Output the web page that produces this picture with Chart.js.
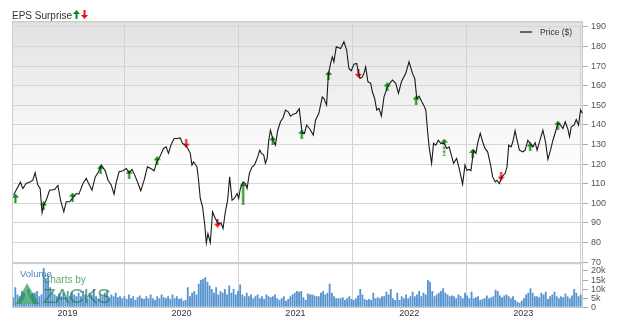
<!DOCTYPE html>
<html>
<head>
<meta charset="utf-8">
<script src="https://cdn.jsdelivr.net/npm/chart.js@4.4.0/dist/chart.umd.min.js"></script>
<style>
  html, body { margin: 0; padding: 0; background: #fff; }
  #wrap { position: relative; width: 620px; height: 330px; font-family: "Liberation Sans", Arial, sans-serif; }
  #chart { position: absolute; left: 0; top: 0; }
  .lbl { position: absolute; white-space: nowrap; }
  #eps { left: 12px; top: 10px; font-size: 10px; line-height: 12px; color: #333; }
  #eps svg { vertical-align: baseline; margin-left: 1px; }
  #legend { left: 520px; top: 27px; font-size: 8.5px; line-height: 10px; color: #333; }
  #legend span { display: inline-block; width: 12px; height: 0; border-top: 2px solid #666; vertical-align: middle; margin-right: 8px; position: relative; top: -1px; }
  #volume { left: 20px; top: 268px; font-size: 9.5px; line-height: 11px; color: #4a86c5; }
  #chartsby { left: 43px; top: 274px; font-size: 10px; line-height: 11px; color: rgba(50, 150, 80, 0.8); }
  #zacks { left: 43px; top: 285px; font-size: 21px; line-height: 21px; color: rgba(30, 125, 70, 0.68); letter-spacing: -0.5px; }
  #logo { position: absolute; left: 15px; top: 282px; }
</style>
</head>
<body>
<div id="wrap">
  <canvas id="chart" width="620" height="330"></canvas>
  <div class="lbl" id="eps">EPS Surprise<svg width="7" height="9" viewBox="0 0 7 9"><polygon points="0,4 3.5,0 7,4" fill="#118a11"/><rect x="2.5" y="4" width="2" height="5" fill="#118a11"/></svg><svg width="7" height="9" viewBox="0 0 7 9"><polygon points="0,5 3.5,9 7,5" fill="#ee1111"/><rect x="2.5" y="0" width="2" height="5" fill="#ee1111"/></svg></div>
  <div class="lbl" id="legend"><span></span>Price ($)</div>
  <svg id="logo" width="25" height="23" viewBox="0 0 25 23">
    <polygon points="1,22 12,1 24,22" fill="rgba(30,140,70,0.65)"/>
    <polygon points="6,22 12,10 18,22" fill="rgba(120,200,140,0.55)"/>
  </svg>
  <div class="lbl" id="volume">Volume</div>
  <div class="lbl" id="chartsby">Charts by</div>
  <div class="lbl" id="zacks">ZACKS</div>
</div>
<script>
// weekly closing price, dates as decimal years
const priceDates = [
  2018.527, 2018.548, 2018.586, 2018.607, 2018.636, 2018.674, 2018.695, 2018.715, 2018.739, 2018.759,
  2018.776, 2018.789, 2018.812, 2018.842, 2018.886, 2018.915, 2018.938, 2018.967, 2018.988, 2019.018,
  2019.047, 2019.076, 2019.099, 2019.135, 2019.164, 2019.185, 2019.214, 2019.243, 2019.267, 2019.296,
  2019.331, 2019.355, 2019.384, 2019.408, 2019.428, 2019.452, 2019.487, 2019.516, 2019.540, 2019.566,
  2019.590, 2019.619, 2019.643, 2019.672, 2019.701, 2019.731, 2019.760, 2019.783, 2019.813, 2019.842,
  2019.865, 2019.886, 2019.907, 2019.936, 2019.965, 2019.989, 2020.009, 2020.033, 2020.056, 2020.077,
  2020.092, 2020.106, 2020.136, 2020.150, 2020.165, 2020.185, 2020.203, 2020.218, 2020.232, 2020.253,
  2020.273, 2020.297, 2020.321, 2020.347, 2020.365, 2020.385, 2020.405, 2020.423, 2020.444, 2020.464,
  2020.488, 2020.502, 2020.517, 2020.541, 2020.561, 2020.576, 2020.596, 2020.620, 2020.640, 2020.658,
  2020.669, 2020.687, 2020.702, 2020.722, 2020.737, 2020.752, 2020.766, 2020.781, 2020.805, 2020.825,
  2020.845, 2020.869, 2020.893, 2020.913, 2020.937, 2020.957, 2020.981, 2021.007, 2021.034, 2021.060,
  2021.080, 2021.098, 2021.124, 2021.157, 2021.177, 2021.206, 2021.236, 2021.250, 2021.274, 2021.289,
  2021.309, 2021.324, 2021.338, 2021.359, 2021.397, 2021.426, 2021.450, 2021.470, 2021.491, 2021.514,
  2021.538, 2021.553, 2021.567, 2021.588, 2021.602, 2021.617, 2021.637, 2021.661, 2021.676, 2021.696,
  2021.714, 2021.734, 2021.755, 2021.778, 2021.808, 2021.828, 2021.852, 2021.881, 2021.905, 2021.931,
  2021.969, 2021.998, 2022.028, 2022.048, 2022.066, 2022.086, 2022.110, 2022.130, 2022.145, 2022.160,
  2022.174, 2022.196, 2022.213, 2022.233, 2022.254, 2022.277, 2022.306, 2022.330, 2022.350, 2022.365,
  2022.389, 2022.416, 2022.438, 2022.468, 2022.489, 2022.506, 2022.526, 2022.541, 2022.565, 2022.585,
  2022.600, 2022.623, 2022.644, 2022.665, 2022.688, 2022.711, 2022.732, 2022.755, 2022.770, 2022.791,
  2022.812, 2022.841, 2022.858, 2022.873, 2022.894, 2022.909, 2022.929, 2022.946, 2022.967, 2022.997,
  2023.017, 2023.041, 2023.061, 2023.085, 2023.105, 2023.122, 2023.143, 2023.173, 2023.196, 2023.217,
  2023.240, 2023.261, 2023.281, 2023.305, 2023.328, 2023.349, 2023.369, 2023.393, 2023.407, 2023.422,
  2023.446, 2023.466, 2023.486, 2023.504, 2023.520
];
const priceValues = [
  104.2, 106.7, 110.8, 107.6, 110.1, 111.0, 111.8, 115.6, 109.3, 107.6,
  95.2, 99.1, 101.6, 106.7, 107.1, 109.1, 101.6, 95.7, 100.8, 100.8,
  103.0, 105.0, 104.7, 110.1, 112.7, 110.1, 106.7, 113.5, 115.6, 119.5,
  116.6, 111.8, 109.3, 104.7, 111.0, 116.1, 116.6, 117.8, 115.6, 117.3,
  114.4, 110.1, 106.4, 111.8, 118.6, 117.8, 116.6, 121.2, 124.1, 128.0,
  128.8, 125.5, 129.7, 133.1, 133.1, 133.4, 130.6, 129.7, 128.0, 125.5,
  119.5, 121.2, 118.6, 111.8, 102.5, 98.2, 89.7, 79.8, 84.6, 80.0,
  95.7, 92.3, 89.7, 90.0, 87.2, 95.7, 101.6, 113.5, 101.6, 102.5,
  105.0, 102.5, 107.6, 111.0, 110.1, 107.6, 115.3, 118.6, 119.5, 122.0,
  123.7, 127.1, 125.5, 124.6, 120.4, 122.9, 132.2, 137.3, 132.2, 129.7,
  137.3, 141.6, 143.8, 147.6, 146.7, 144.5, 145.5, 146.0, 148.2, 135.7,
  135.7, 139.9, 138.2, 134.8, 142.4, 145.9, 154.3, 153.4, 150.1, 165.4,
  171.4, 174.7, 172.2, 179.9, 179.0, 182.4, 178.2, 168.8, 167.6, 171.0,
  171.4, 167.1, 163.7, 164.5, 166.3, 169.6, 162.0, 161.2, 156.9, 153.5,
  147.6, 148.4, 144.5, 154.3, 159.4, 161.2, 162.9, 161.2, 156.1, 162.0,
  166.3, 172.2, 166.3, 163.7, 153.5, 154.7, 151.8, 149.6, 147.6, 137.3,
  128.8, 120.4, 130.6, 129.7, 132.2, 130.6, 130.6, 128.0, 128.8, 125.5,
  120.4, 122.9, 117.8, 109.8, 119.5, 116.9, 117.3, 116.6, 127.1, 125.5,
  130.6, 135.7, 131.4, 128.0, 126.3, 120.4, 113.5, 111.0, 111.8, 110.1,
  113.5, 115.2, 118.6, 129.7, 128.8, 131.4, 137.0, 132.2, 127.1, 126.3,
  127.1, 132.2, 130.6, 128.8, 130.9, 127.1, 131.4, 137.3, 131.4, 122.4,
  127.1, 132.2, 136.0, 140.8, 139.9, 138.2, 141.6, 137.7, 133.9, 139.0,
  139.9, 142.8, 139.9, 147.6, 145.9
];

// earnings surprise markers
const epsDates = [2018.542, 2018.789, 2019.044, 2019.290, 2019.540, 2019.786, 2020.041, 2020.317, 2020.541, 2020.801,
  2021.056, 2021.291, 2021.553, 2021.805, 2022.060, 2022.306, 2022.556, 2022.806, 2023.061, 2023.305];
const epsPrices = [102.7, 98.7, 103.2, 117.4, 114.9, 121.7, 130.7, 89.9, 105.0, 131.9,
  135.3, 165.3, 166.3, 159.4, 152.7, 128.7, 125.5, 113.9, 128.8, 139.9];
const epsKinds = ['up', 'up', 'up', 'up', 'up', 'up', 'down', 'down', 'upLong', 'up',
  'up', 'up', 'down', 'up', 'up', 'upDash', 'up', 'down', 'up', 'up'];

// weekly volume in thousands
const volStart = 2018.522;
const volWeek = 7 / 365.25;
const volumes = [
  5.5, 11, 7, 6, 9, 8, 6.5, 10, 7, 8,
  8, 9, 6, 7, 21.6, 16, 17, 11, 8, 7,
  6, 7.5, 6, 8, 5.5, 9, 6, 8, 7, 6,
  8, 6, 9, 7, 5, 8, 7, 10, 6, 5,
  7, 6, 8, 9, 5, 7, 6, 8, 5.5, 6,
  5, 6, 4.5, 7, 5, 6, 4, 5.5, 6.5, 5,
  4.5, 6, 5, 7, 5, 4, 6, 5, 7, 5.5,
  5, 6, 4.5, 7, 5, 6, 4.5, 5, 3.5, 4,
  11, 6, 8, 9, 7, 13, 15, 15.5, 16.5, 14,
  12, 10, 8, 11, 7, 9, 8, 10, 7, 12,
  8, 10, 7, 9, 12.5, 7, 6, 8, 6, 7,
  5, 6, 7, 5, 6, 4.5, 7, 6, 5.5, 6,
  7, 5, 4, 5, 6, 3.5, 4.5, 6, 7, 8,
  9, 8.5, 9, 5.5, 4, 7.5, 7, 7, 6.5, 6,
  6, 8, 9, 7, 8, 13, 8, 6, 5, 5,
  5, 5.5, 4, 5, 6, 4.5, 4, 5, 6.5, 10,
  7, 4.5, 4, 4.5, 4, 8, 5, 5.5, 5, 6,
  6, 8.5, 7, 10, 5, 4, 8, 4, 6, 5,
  7, 5, 6, 8.5, 6, 7, 9, 6, 8, 7,
  15, 14, 9, 6, 7, 8, 9, 10.5, 8, 7,
  6, 6.5, 6, 5, 7, 6, 5, 8, 6.5, 5,
  8.5, 5, 5.5, 6, 4, 4.5, 5, 6.5, 5, 5.5,
  6, 9.6, 9, 6.5, 5.5, 6.5, 7, 6, 5, 6,
  4, 3, 2.5, 3.5, 5, 7, 8, 10.5, 8, 6,
  6, 5.5, 8, 7, 8.5, 4.5, 6, 7, 8.5, 6,
  5, 6, 5.5, 7.5, 6, 5, 6.5, 10, 8, 6, 7
];

const yearTicks = [2019, 2020, 2021, 2022, 2023];
const priceTicks = [70, 80, 90, 100, 110, 120, 130, 140, 150, 160, 170, 180, 190];
const volTicks = [0, 5, 10, 15, 20];

function makeArrow(kind) {
  const up = kind !== 'down';
  const color = up ? '#118a11' : '#f01414';
  const stem = kind === 'upLong' ? 19 : kind === 'upDash' ? 13 : 5;
  const w = 7, head = 4, h = head + stem;
  const c = document.createElement('canvas');
  c.width = w; c.height = h;
  const g = c.getContext('2d');
  g.fillStyle = color;
  g.beginPath();
  if (up) {
    g.moveTo(0, head); g.lineTo(w / 2, 0); g.lineTo(w, head);
  } else {
    g.moveTo(0, h - head); g.lineTo(w / 2, h); g.lineTo(w, h - head);
  }
  g.closePath();
  g.fill();
  const sy = up ? head : 0;
  if (kind === 'upDash') {
    for (let y = sy; y < sy + stem; y += 4) g.fillRect(2.5, y, 2, 2.5);
  } else {
    g.fillRect(2.5, sy, 2, stem);
  }
  return c;
}
const arrowImgs = {
  up: makeArrow('up'), down: makeArrow('down'),
  upLong: makeArrow('upLong'), upDash: makeArrow('upDash')
};

const panelBg = {
  id: 'panelBg',
  beforeDraw(chart) {
    const { ctx, chartArea: a, scales } = chart;
    const top = scales.y.top, bot = scales.y.bottom;
    const grad = ctx.createLinearGradient(0, top, 0, top + 150);
    grad.addColorStop(0, '#e2e2e2');
    grad.addColorStop(1, '#ffffff');
    ctx.save();
    ctx.fillStyle = grad;
    ctx.fillRect(a.left, top, a.right - a.left, bot - top);
    ctx.restore();
  },
  afterDraw(chart) {
    const { ctx, chartArea: a, scales } = chart;
    ctx.save();
    ctx.fillStyle = '#cdcdcd';
    ctx.fillRect(a.left, scales.y.bottom - 1, a.right - a.left, 2);
    ctx.fillRect(a.left, a.top, a.right - a.left, 1.5);
    ctx.fillRect(a.left, a.top, 1, a.bottom - a.top);
    ctx.restore();
  }
};

Chart.defaults.font.family = '"Liberation Sans", Arial, sans-serif';
Chart.defaults.font.size = 9;

new Chart(document.getElementById('chart'), {
  type: 'line',
  data: {
    datasets: [
      {
        label: 'Price ($)',
        data: priceDates.map((d, i) => ({ x: d, y: priceValues[i] })),
        borderColor: '#1a1a1a',
        borderWidth: 1.1,
        pointRadius: 0,
        tension: 0,
        xAxisID: 'x',
        yAxisID: 'y'
      },
      {
        label: 'EPS Surprise',
        data: epsDates.map((d, i) => ({ x: d, y: epsPrices[i] })),
        showLine: false,
        pointRadius: 5,
        pointStyle: ctx => arrowImgs[epsKinds[ctx.dataIndex]],
        xAxisID: 'x',
        yAxisID: 'y'
      },
      {
        type: 'bar',
        label: 'Volume',
        data: volumes.map((v, i) => ({ x: volStart + i * volWeek, y: v })),
        backgroundColor: '#5894cf',
        borderWidth: 0,
        barPercentage: 0.85,
        categoryPercentage: 1,
        xAxisID: 'x',
        yAxisID: 'yv'
      }
    ]
  },
  options: {
    responsive: false,
    animation: false,
    layout: { padding: { left: 12, top: 21, right: 11, bottom: 10 } },
    plugins: {
      legend: { display: false },
      tooltip: { enabled: false }
    },
    scales: {
      x: {
        type: 'linear',
        min: 2018.512,
        max: 2023.525,
        offset: false,
        afterBuildTicks: ax => { ax.ticks = yearTicks.map(v => ({ value: v })); },
        ticks: { color: '#333', padding: 1, maxRotation: 0, autoSkip: false, callback: v => String(v) },
        grid: { color: '#d2d2d2', drawTicks: false },
        border: { color: '#c8c8c8' }
      },
      y: {
        position: 'right',
        stack: 'panes',
        stackWeight: 242,
        min: 69.5,
        max: 193,
        afterBuildTicks: ax => { ax.ticks = priceTicks.map(v => ({ value: v })); },
        ticks: { color: '#555', padding: 3, autoSkip: false },
        grid: { color: '#d6d6d6', tickLength: 5, tickColor: '#aaa' },
        border: { color: '#c8c8c8' }
      },
      yv: {
        position: 'right',
        stack: 'panes',
        stackWeight: 44,
        min: 0,
        max: 24.3,
        afterBuildTicks: ax => { ax.ticks = volTicks.map(v => ({ value: v })); },
        ticks: { color: '#555', padding: 3, autoSkip: false, callback: v => v === 0 ? '0' : v + 'k' },
        grid: { drawOnChartArea: false, tickLength: 5, tickColor: '#aaa' },
        border: { color: '#c8c8c8' }
      }
    }
  },
  plugins: [panelBg]
});
</script>
</body>
</html>
